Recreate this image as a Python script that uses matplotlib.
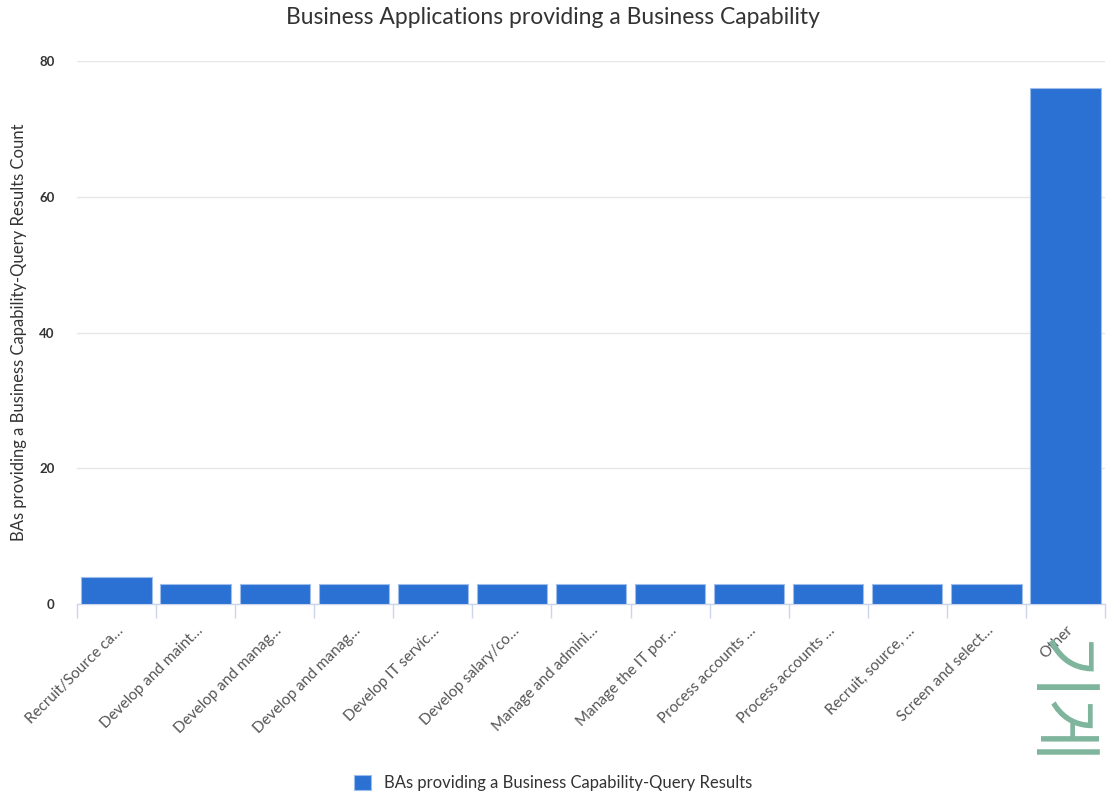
import numpy as np
import matplotlib.pyplot as plt

# ── data ──────────────────────────────────────────────────────────────────────
categories = [
    "Recruit/Source ca…", "Develop and maint…", "Develop and manag…",
    "Develop and manag…", "Develop IT servic…", "Develop salary/co…",
    "Manage and admini…", "Manage the IT por…", "Process accounts …",
    "Process accounts …", "Recruit, source, …", "Screen and select…", "Other",
]
counts = [4, 3, 3, 3, 3, 3, 3, 3, 3, 3, 3, 3, 76]
y_ticks = [0, 20, 40, 60, 80]

BAR = "#2B71D3"
AXIS = "#CCD6EB"
GRID = "#E6E6E6"
TXT = "#333333"

plt.rcParams["font.family"] = ["Lato", "DejaVu Sans"]

fig = plt.figure(figsize=(11.13, 7.98), dpi=100)
ax = fig.add_axes([77 / 1113, 194 / 798, (1105 - 77) / 1113, (604 - 61) / 798])

x = np.arange(len(categories))
ax.bar(x, counts, width=0.89, color=BAR, edgecolor="#9DBDEB", linewidth=0.8, zorder=3,
       label="BAs providing a Business Capability-Query Results")

ax.set_xlim(-0.5, len(categories) - 0.5)
ax.set_ylim(0, 80)
ax.set_yticks(y_ticks)
ax.set_yticklabels([str(v) for v in y_ticks], fontsize=9.5, color=TXT, fontweight="bold")
ax.yaxis.grid(True, color=GRID, linewidth=1, zorder=0)
ax.tick_params(axis="y", length=0, pad=16)

ax.set_xticks(x)
ax.set_xticklabels(categories, rotation=45, ha="right", va="top", rotation_mode="anchor",
                   fontsize=11, color="#555555")
ax.tick_params(axis="x", which="major", length=0, pad=14)
ax.set_xticks(np.arange(len(categories) + 1) - 0.5, minor=True)
ax.tick_params(axis="x", which="minor", length=10, color=AXIS, width=1)

for side in ["top", "right", "left"]:
    ax.spines[side].set_visible(False)
ax.spines["bottom"].set_color(AXIS)
ax.spines["bottom"].set_linewidth(1)

fig.text(19 / 1113, 1 - 332 / 798, "BAs providing a Business Capability-Query Results Count",
         rotation=90, ha="center", va="center", fontsize=12, color=TXT)

fig.text(553 / 1113, 1 - 18 / 798, "Business Applications providing a Business Capability",
         ha="center", va="center", fontsize=16.5, color=TXT)

fig.legend(loc="center", bbox_to_anchor=(553 / 1113, 1 - 783 / 798), frameon=False,
           fontsize=12, handlelength=1.0, handleheight=1.0, handletextpad=0.8,
           labelcolor=TXT)

# faint overlay text at the right edge of the screenshot
fig.text(1058 / 1113, 1 - 638 / 798, "기게", rotation=-90, ha="center", va="top",
         fontsize=50, color="#7FB59C", family=["Noto Sans CJK KR", "DejaVu Sans"])

fig.savefig("out.png", dpi=100, facecolor="white")
